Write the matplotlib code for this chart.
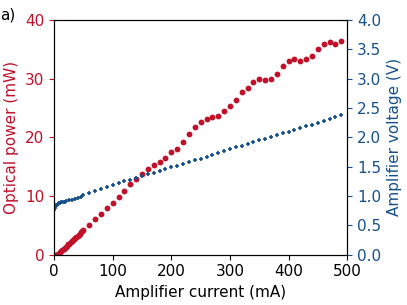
import matplotlib
matplotlib.use('Agg')
import matplotlib.pyplot as plt

# optical power (mW) vs amplifier current (mA)
current_p = [2, 4, 6, 8, 10, 12, 14, 16, 18, 20, 22, 24, 26, 28, 30, 32, 34, 36, 38, 40, 42, 44, 46, 48,
             50, 60, 70, 80, 90, 100, 110, 120, 130, 140, 150, 160, 170, 180, 190, 200, 210, 220, 230,
             240, 250, 260, 270, 280, 290, 300, 310, 320, 330, 340, 350, 360, 370, 380, 390, 400, 410,
             420, 430, 440, 450, 460, 470, 480, 490]
power = [0.0, 0.0, 0.05, 0.2, 0.4, 0.6, 0.8, 1.0, 1.15, 1.35, 1.55, 1.75, 1.9, 2.1, 2.3, 2.5, 2.65, 2.85,
         3.05, 3.2, 3.4, 3.6, 3.8, 4.0,
         4.25, 5.1, 6.05, 6.9, 7.9, 8.85, 9.8, 10.8, 12.0, 12.9, 13.8, 14.6, 15.3, 15.8, 16.5, 17.5,
         18.0, 19.3, 20.5, 21.7, 22.6, 23.1, 23.5, 23.7, 24.5, 25.3, 26.4, 27.7, 28.4, 29.5, 29.9,
         29.8, 29.9, 30.8, 32.2, 33.1, 33.3, 33.0, 33.3, 33.8, 35.0, 36.0, 36.2, 35.9, 36.4]

# amplifier voltage (V) vs amplifier current (mA)
current_v = [0, 1, 2, 3, 4, 5, 6, 7, 8, 9, 10, 12, 14, 16, 18, 20, 25, 30, 35, 40, 45,
             50, 60, 70, 80, 90, 100, 110, 120, 130, 140, 150, 160, 170, 180, 190, 200, 210, 220,
             230, 240, 250, 260, 270, 280, 290, 300, 310, 320, 330, 340, 350, 360, 370, 380, 390,
             400, 410, 420, 430, 440, 450, 460, 470, 480, 490]
voltage = [0.76, 0.79, 0.81, 0.83, 0.845, 0.855, 0.865, 0.87, 0.875, 0.88, 0.885, 0.89, 0.895, 0.90,
           0.905, 0.91, 0.925, 0.94, 0.955, 0.97, 0.99,
           1.02, 1.05, 1.08, 1.12, 1.15, 1.19, 1.22, 1.25, 1.28, 1.31, 1.34, 1.37, 1.40, 1.43, 1.46,
           1.49, 1.52, 1.55, 1.58, 1.61, 1.64, 1.67, 1.70, 1.74, 1.77, 1.80, 1.83, 1.86, 1.89, 1.92,
           1.95, 1.98, 2.01, 2.04, 2.07, 2.10, 2.13, 2.16, 2.19, 2.22, 2.25, 2.28, 2.32, 2.35, 2.38]

red = '#c0102a'
blue = '#15508c'

plt.rcParams['font.size'] = 11

fig, ax = plt.subplots(figsize=(4.07, 3.05), dpi=100)
fig.subplots_adjust(left=0.133, right=0.853, top=0.934, bottom=0.165)

ax.plot(current_p, power, 'o', color=red, markersize=4.2, markeredgewidth=0)
ax.set_xlim(0, 500)
ax.set_ylim(0, 40)
ax.set_xlabel('Amplifier current (mA)')
ax.set_ylabel('Optical power (mW)', color=red)
ax.tick_params(axis='y', colors=red)

ax2 = ax.twinx()
ax2.plot(current_v, voltage, '+', color=blue, markersize=3.2, markeredgewidth=1.2)
ax2.set_ylim(0, 4)
ax2.set_yticks([0, 0.5, 1.0, 1.5, 2.0, 2.5, 3.0, 3.5, 4.0])
ax2.set_ylabel('Amplifier voltage (V)', color=blue)
ax2.tick_params(axis='y', colors=blue)

fig.text(0.0, 0.975, 'a)', ha='left', va='top', fontsize=11)

plt.savefig('out.png')
